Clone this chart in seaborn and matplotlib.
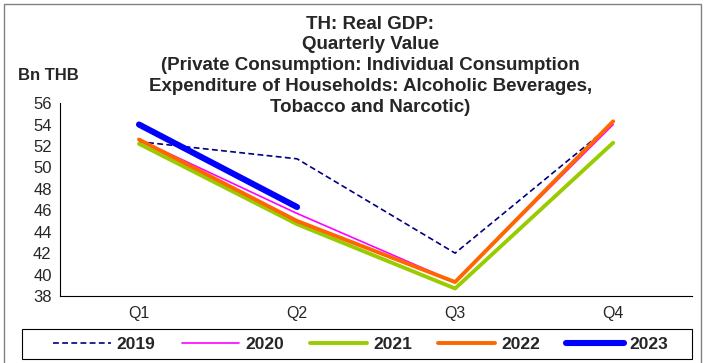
import matplotlib
matplotlib.use("Agg")
import matplotlib.pyplot as plt
import matplotlib.patches as mpatches
import pandas as pd
import seaborn as sns

# dados
quarters = ["Q1", "Q2", "Q3", "Q4"]
y2019 = [52.4, 50.8, 42.0, 54.1]
y2020 = [52.6, 45.7, 39.3, 54.0]
y2021 = [52.2, 44.7, 38.7, 52.3]
y2022 = [52.6, 45.0, 39.3, 54.3]
y2023 = [54.0, 46.3]

series = {"2019": y2019, "2020": y2020, "2021": y2021, "2022": y2022, "2023": y2023}
styles = {
    "2019": dict(color="#000080", lw=1.2, ls=(0, (3.5, 2))),
    "2020": dict(color="#FF00FF", lw=1.2, ls="-"),
    "2021": dict(color="#99CC00", lw=2.8, ls="-"),
    "2022": dict(color="#FF6600", lw=2.8, ls="-"),
    "2023": dict(color="#0000FF", lw=4.4, ls="-"),
}

sns.set_style("white")
plt.rcParams["font.family"] = ["Liberation Sans", "DejaVu Sans"]

fig = plt.figure(figsize=(7.04, 3.63), dpi=100)
ax = fig.add_axes([0.0852, 0.1846, 0.898, 0.5314])

for name, vals in series.items():
    d = pd.DataFrame({"x": range(len(vals)), "y": vals})
    st = styles[name]
    sns.lineplot(data=d, x="x", y="y", ax=ax, color=st["color"], linewidth=st["lw"],
                 linestyle=st["ls"], label=name, solid_capstyle="round")

ax.set_xlim(-0.5, 3.5)
ax.set_ylim(38, 56)
ax.set_yticks(range(38, 57, 2))
ax.set_xticks([-0.5, 0.5, 1.5, 2.5, 3.5])
ax.set_xticklabels([])
ax.set_xticks(range(4), minor=True)
ax.set_xticklabels(quarters, minor=True, fontsize=11.5)
ax.tick_params(axis="x", which="minor", length=0, pad=7)
ax.tick_params(axis="x", which="major", length=4, direction="out", color="black", width=0.8)
ax.tick_params(axis="y", length=4, direction="out", color="black", width=0.8, labelsize=12, pad=2)
ax.set_xlabel("")
ax.set_ylabel("")
for s in ["top", "right"]:
    ax.spines[s].set_visible(False)
for s in ["left", "bottom"]:
    ax.spines[s].set_color("black")
    ax.spines[s].set_linewidth(0.8)

fig.text(0.526, 0.957, "TH: Real GDP:\nQuarterly Value\n(Private Consumption: Individual Consumption\n"
         "Expenditure of Households: Alcoholic Beverages,\nTobacco and Narcotic)",
         ha="center", va="top", fontsize=13.5, fontweight="bold", linespacing=1.29)
fig.text(0.025, 0.793, "Bn THB", fontsize=12, fontweight="bold", va="center")

# legenda sem moldura, moldura desenhada à parte
leg = ax.legend(loc="center", bbox_to_anchor=(361 / 704, 1 - 344 / 363),
                bbox_transform=fig.transFigure,
                ncol=5, frameon=False, fontsize=12.5, handlelength=3.3,
                handletextpad=0.35, columnspacing=1.5)
for t in leg.get_texts():
    t.set_fontweight("bold")

leg_box = mpatches.Rectangle((22 / 704, 1 - 359 / 363), 670 / 704, 30 / 363, transform=fig.transFigure,
                             fill=False, edgecolor="black", linewidth=0.8)
fig.patches.append(leg_box)

border = mpatches.Rectangle((4 / 704, -0.05), 697 / 704, 1.05 - 4 / 363, transform=fig.transFigure,
                            fill=False, edgecolor="#808080", linewidth=1.0)
fig.patches.append(border)

fig.savefig("out.png", dpi=100)
